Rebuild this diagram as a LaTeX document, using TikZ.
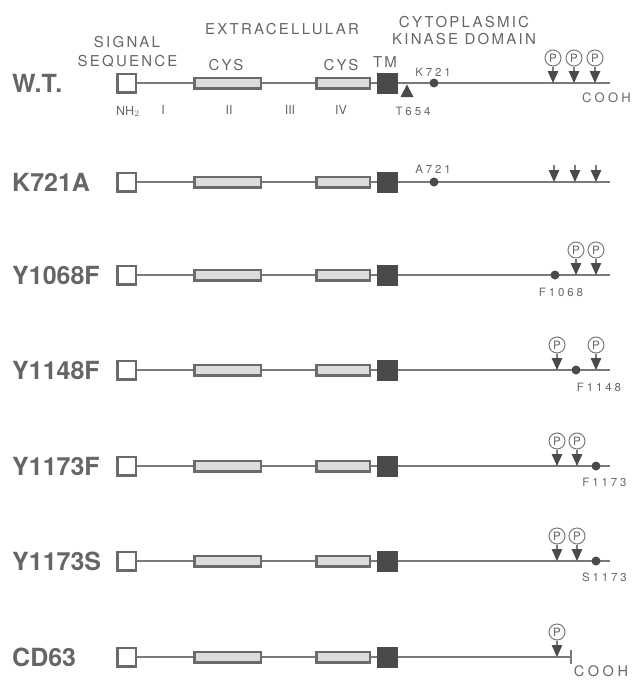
\documentclass[tikz,border=0pt]{standalone}
\usepackage{fontspec}
\setmainfont{TeX Gyre Heros}
\newfontfamily\lsfont[LetterSpace=15]{TeX Gyre Heros}
\newfontfamily\smfont[LetterSpace=25]{TeX Gyre Heros}
\usetikzlibrary{arrows.meta}
\definecolor{ink}{HTML}{666666}
\definecolor{lineink}{HTML}{7A7A7A}
\definecolor{boxink}{HTML}{6A6A6A}
\definecolor{darkfill}{HTML}{4A4A4A}
\definecolor{cysfill}{HTML}{DCDCDC}
\newcommand\protrow[3]{%
  \node[rowlabel] (lab#1) at (12,#2+9) {#3};
  \node[sigbox] (sq#1) at (126.5,#2) {};
  \node[cysA] (ca#1) at (227.5,#2) {};
  \node[cysB] (cb#1) at (343,#2) {};
  \node[tmbox] (tm#1) at (387.5,#2) {};
  \draw[mainline] (sq#1) -- (ca#1);
  \draw[mainline] (ca#1) -- (cb#1);
  \draw[mainline] (cb#1) -- (tm#1);
}
\newcommand\pmark[3]{%
  \node[pcirc] (p#1) at (#2,#3-25) {P};
  \coordinate (t#1) at (#2,#3);
  \draw[parrow] (p#1) -- (t#1);
}
\newcommand\bareark[3]{%
  \coordinate (s#1) at (#2,#3-17);
  \coordinate (t#1) at (#2,#3);
  \draw[parrow] (s#1) -- (t#1);
}
\begin{document}
\begin{tikzpicture}[x=1pt,y=-1pt,
  rowlabel/.style={anchor=base west, font=\bfseries\fontsize{25}{25}\selectfont, text=ink, inner sep=0},
  toplabel/.style={font=\lsfont\fontsize{15}{15}\selectfont, text=ink, inner sep=0},
  smlabel/.style={font=\smfont\fontsize{11.5}{12}\selectfont, text=ink, inner sep=0},
  romlabel/.style={font=\fontsize{12.5}{13}\selectfont, text=ink, inner sep=0},
  sigbox/.style={draw=boxink, line width=2.5pt, fill=white, minimum width=18.5pt, minimum height=18.5pt, inner sep=0},
  cysA/.style={draw=boxink, line width=2.5pt, fill=cysfill, minimum width=66.5pt, minimum height=10.5pt, inner sep=0},
  cysB/.style={draw=boxink, line width=2.5pt, fill=cysfill, minimum width=53.5pt, minimum height=10.5pt, inner sep=0},
  tmbox/.style={draw=darkfill, fill=darkfill, line width=1pt, minimum width=20pt, minimum height=20pt, inner sep=0},
  mainline/.style={draw=lineink, line width=1.5pt},
  dot/.style={circle, fill=darkfill, minimum size=9pt, inner sep=0},
  pcirc/.style={circle, draw=lineink, line width=1pt, fill=white, minimum size=16pt, inner sep=0, font=\fontsize{11.5}{12}\selectfont, text=ink},
  parrow/.style={draw=lineink, line width=1.2pt, -{Triangle[width=10.5pt,length=12pt,color=darkfill,fill=darkfill]}},
]
\useasboundingbox (0,0) rectangle (632,680);

% ---- header labels
\node[toplabel] (hsig) at (127,42.5) {SIGNAL};
\node[toplabel] (hseq) at (127.5,61) {SEQUENCE};
\node[toplabel] (hext) at (282,29) {EXTRACELLULAR};
\node[toplabel] (hcys1) at (226,65) {CYS};
\node[toplabel] (hcys2) at (341,65) {CYS};
\node[toplabel] (htm) at (385,62) {TM};
\node[toplabel] (hcyt) at (464,22) {CYTOPLASMIC};
\node[toplabel] (hkin) at (464,39) {KINASE DOMAIN};

% ---- W.T.
\protrow{a}{83}{W.T.}
\coordinate (enda) at (610,83);
\draw[mainline] (tma) -- (enda);
\fill[darkfill] (400.5,97) -- (413.5,97) -- (407,84.5) -- cycle;
\node[dot] (ka) at (434,83) {};
\node[smlabel] (k721) at (433,72) {K721};
\node[smlabel] (t654) at (413,111) {T654};
\node[romlabel, anchor=base west] (nh2) at (116,115) {NH$_{\fontsize{12}{12}\selectfont 2}$};
\node[romlabel] (r1) at (163,110) {I};
\node[romlabel] (r2) at (229,110) {II};
\node[romlabel] (r3) at (290,110) {III};
\node[romlabel] (r4) at (341,110) {IV};
\pmark{a1}{553}{83}
\pmark{a2}{574}{83}
\pmark{a3}{595}{83}
\node[smlabel] (cooha) at (606.5,98) {\fontsize{13}{13}\selectfont COOH};

% ---- K721A
\protrow{b}{182}{K721A}
\coordinate (endb) at (610,182);
\draw[mainline] (tmb) -- (endb);
\node[dot] (kb) at (434,182) {};
\node[smlabel] (a721) at (433,169) {A721};
\bareark{b1}{554}{182}
\bareark{b2}{575}{182}
\bareark{b3}{596}{182}

% ---- Y1068F
\protrow{c}{275}{Y1068F}
\coordinate (endc) at (610,275);
\draw[mainline] (tmc) -- (endc);
\node[dot] (fc) at (555,275) {};
\node[smlabel] (f1068) at (561,292) {F1068};
\pmark{c1}{576}{275}
\pmark{c2}{596}{275}

% ---- Y1148F
\protrow{d}{370}{Y1148F}
\coordinate (endd) at (610,370);
\draw[mainline] (tmd) -- (endd);
\node[dot] (fd) at (576,370) {};
\node[smlabel] (f1148) at (599,387) {F1148};
\pmark{d1}{557}{370}
\pmark{d2}{596}{370}

% ---- Y1173F
\protrow{e}{466}{Y1173F}
\coordinate (ende) at (610,466);
\draw[mainline] (tme) -- (ende);
\node[dot] (fe) at (596,466) {};
\node[smlabel] (f1173) at (604.5,482) {F1173};
\pmark{e1}{557}{466}
\pmark{e2}{577}{466}

% ---- Y1173S
\protrow{f}{561}{Y1173S}
\coordinate (endf) at (610,561);
\draw[mainline] (tmf) -- (endf);
\node[dot] (ff) at (596,561) {};
\node[smlabel] (s1173) at (604.5,577) {S1173};
\pmark{f1}{557}{561}
\pmark{f2}{577}{561}

% ---- CD63
\protrow{g}{657}{CD63}
\coordinate (endg) at (571,657);
\draw[mainline] (tmg) -- (endg);
\coordinate (tickt) at (571,650);
\coordinate (tickb) at (571,664);
\draw[mainline] (tickt) -- (tickb);
\pmark{g1}{557}{657}
\node[smlabel] (coohg) at (601,671) {\fontsize{14.5}{15}\selectfont COOH};
\end{tikzpicture}
\end{document}
